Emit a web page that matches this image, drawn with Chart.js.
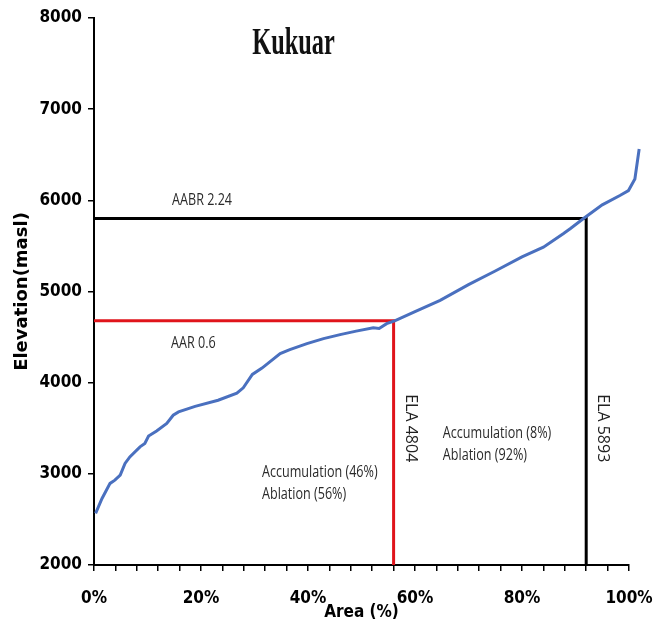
<!DOCTYPE html>
<html>
<head>
<meta charset="utf-8">
<script src="https://cdn.jsdelivr.net/npm/chart.js@4/dist/chart.umd.min.js"></script>
<style>
  html, body { margin: 0; padding: 0; background: #ffffff; }
  #wrap { width: 668px; height: 624px; }
</style>
</head>
<body>
<div id="wrap"><canvas id="c" width="668" height="624"></canvas></div>
<script>
// ---- data ----
const chartTitle = "Kukuar";
const areaPct = [0.3, 1.5, 3.0, 3.9, 4.9, 5.8, 6.7, 8.6, 9.5, 10.2, 11.7, 13.6, 14.8, 15.8, 18.9, 23.2,
  26.7, 27.9, 29.6, 31.4, 34.8, 36.6, 39.8, 42.9, 46.0, 49.0, 52.2, 53.3, 54.7, 56.3,
  60, 64.7, 70, 75, 80, 84.0, 87.7, 89.0, 91.5, 95.0, 98.3, 99.9, 101.1, 101.9];
const elevation = [2566, 2730, 2895, 2931, 2986, 3114, 3186, 3296, 3333, 3415, 3470, 3552, 3643, 3679, 3740, 3807,
  3884, 3944, 4090, 4160, 4319, 4362, 4428, 4483, 4527, 4565, 4603, 4595, 4647, 4680,
  4780, 4902, 5075, 5225, 5380, 5486, 5633, 5688, 5800, 5950, 6053, 6107, 6235, 6563];

// reference lines: AAR (red) and AABR (black)
const aarLineX = [0, 56, 56];
const aarLineY = [4680, 4680, 2000];
const aabrLineX = [0, 92, 92];
const aabrLineY = [5800, 5800, 2000];

// axis ticks
const xMin = 0, xMax = 100, xStep = 4, xLabelEvery = 20;
const yMin = 2000, yMax = 8000, yStep = 1000;
const xAxisTitle = "Area (%)";
const yAxisTitle = "Elevation(masl)";

// text annotations (data coordinates)
const noteTexts = ["AABR 2.24", "AAR 0.6", "Accumulation (46%)", "Ablation (56%)", "Accumulation (8%)", "Ablation (92%)"];
const noteX = [14.6, 14.4, 31.4, 31.4, 65.2, 65.2];
const noteY = [6000, 4432, 3019, 2778, 3446, 3205];
const elaTexts = ["ELA 4804", "ELA 5893"];
const elaX = [59.1, 95.0];
const elaY = [3500, 3500];
const titleX = 37.3, titleY = 7608;

const toPts = (xs, ys) => xs.map((x, i) => ({x: x, y: ys[i]}));

const annotPlugin = {
  id: 'annot',
  afterDatasetsDraw(chart) {
    const ctx = chart.ctx;
    const xs = chart.scales.x, ys = chart.scales.y;
    ctx.save();
    // title
    ctx.fillStyle = '#111';
    ctx.font = 'bold 38px "Liberation Serif", "DejaVu Serif", serif';
    ctx.textAlign = 'center';
    ctx.textBaseline = 'alphabetic';
    ctx.save();
    ctx.translate(xs.getPixelForValue(titleX), ys.getPixelForValue(titleY));
    ctx.scale(0.64, 1);
    ctx.fillText(chartTitle, 0, 0);
    ctx.restore();
    // notes
    ctx.fillStyle = '#2a2a2a';
    ctx.font = '17px "Open Sans", sans-serif';
    ctx.textAlign = 'left';
    ctx.textBaseline = 'middle';
    noteTexts.forEach((t, i) => {
      ctx.save();
      ctx.translate(xs.getPixelForValue(noteX[i]), ys.getPixelForValue(noteY[i]));
      ctx.scale(0.74, 1);
      ctx.fillText(t, 0, 0);
      ctx.restore();
    });
    // ELA vertical texts
    ctx.font = '16px "Open Sans", sans-serif';
    ctx.textAlign = 'center';
    ctx.fillStyle = '#222';
    elaTexts.forEach((t, i) => {
      ctx.save();
      ctx.translate(xs.getPixelForValue(elaX[i]), ys.getPixelForValue(elaY[i]));
      ctx.rotate(Math.PI / 2);
      ctx.fillText(t, 0, 0);
      ctx.restore();
    });
    ctx.restore();
  }
};

const tickFont = {family: "'DejaVu Sans Condensed', 'DejaVu Sans', sans-serif", size: 17, weight: 'bold'};

new Chart(document.getElementById('c'), {
  type: 'scatter',
  data: {
    datasets: [
      {
        label: 'Hypsometry',
        data: toPts(areaPct, elevation),
        showLine: true,
        borderColor: '#4a70bf',
        borderWidth: 3,
        pointRadius: 0,
        tension: 0,
        clip: false,
        order: 0
      },
      {
        label: 'AAR',
        data: toPts(aarLineX, aarLineY),
        showLine: true,
        borderColor: '#e0141b',
        borderWidth: 3,
        pointRadius: 0,
        order: 1
      },
      {
        label: 'AABR',
        data: toPts(aabrLineX, aabrLineY),
        showLine: true,
        borderColor: '#000000',
        borderWidth: 3,
        pointRadius: 0,
        order: 2
      }
    ]
  },
  options: {
    responsive: false,
    animation: false,
    devicePixelRatio: 1,
    layout: { padding: { top: 18, right: 39, bottom: 0, left: 0 } },
    plugins: {
      legend: { display: false },
      tooltip: { enabled: false },
      title: { display: false }
    },
    scales: {
      x: {
        type: 'linear',
        afterDataLimits(s) { s.min = xMin; s.max = xMax; },
        afterFit(s) { s.height = 59; s.paddingLeft = 0; s.paddingRight = 0; },
        border: { display: true, color: '#000', width: 2 },
        grid: { drawOnChartArea: false, drawTicks: true, tickLength: 6, color: '#000', lineWidth: 1.5 },
        ticks: {
          stepSize: xStep,
          autoSkip: false,
          maxRotation: 0,
          padding: 17,
          color: '#000',
          font: tickFont,
          callback: (v) => (Math.round(v) % xLabelEvery === 0 ? Math.round(v) + '%' : '')
        },
        title: {
          display: true,
          text: xAxisTitle,
          color: '#000',
          font: {family: "'DejaVu Sans Condensed', 'DejaVu Sans', sans-serif", size: 17, weight: 'bold'},
          padding: { top: 0, bottom: 1 }
        }
      },
      y: {
        type: 'linear',
        min: yMin, max: yMax,
        afterFit(s) { s.width = 94; s.paddingTop = 0; s.paddingBottom = 0; },
        border: { display: true, color: '#000', width: 2 },
        grid: { drawOnChartArea: false, drawTicks: true, tickLength: 6, color: '#000', lineWidth: 1.5 },
        ticks: {
          stepSize: yStep,
          padding: 6,
          color: '#000',
          font: tickFont,
          callback: (v) => String(v)
        },
        title: {
          display: true,
          text: yAxisTitle,
          color: '#000',
          font: {family: "'DejaVu Sans', sans-serif", size: 18, weight: 'bold'},
          padding: { top: 12, bottom: 0 }
        }
      }
    }
  },
  plugins: [annotPlugin]
});
</script>
</body>
</html>
